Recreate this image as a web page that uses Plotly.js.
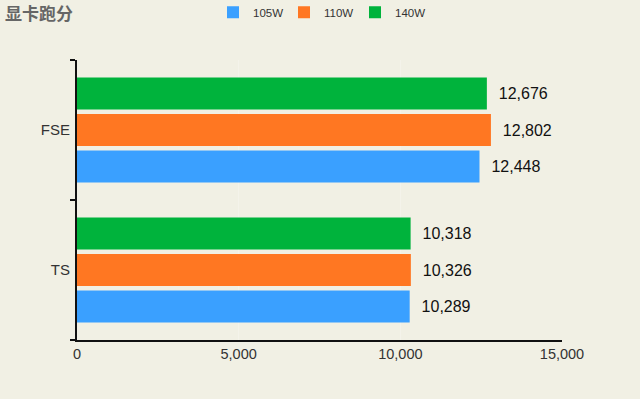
<!DOCTYPE html>
<html><head><meta charset="utf-8">
<script src="https://cdn.plot.ly/plotly-3.0.1.min.js"></script>
<style>html,body{margin:0;padding:0;background:#f1f0e4;}#chart{width:640px;height:399px;}</style>
</head><body><div id="chart"></div>
<script>
const categories = ['TS', 'FSE'];
const seriesNames = ['105W', '110W', '140W'];
const v105 = [10289, 12448];
const v110 = [10326, 12802];
const v140 = [10318, 12676];
const colors = ['#3aa0ff', '#ff7722', '#00b33c'];
const xTicks = [0, 5000, 10000, 15000];
const fmt = n => n.toLocaleString('en-US');
const vals = [v105, v110, v140];
const traces = vals.map((v, i) => ({
  type: 'bar', orientation: 'h', name: seriesNames[i], y: categories, x: v,
  marker: {color: colors[i]}, text: v.map(n => '\u00a0\u00a0' + fmt(n)), textposition: 'outside',
  textfont: {family: 'Liberation Sans, Arial, sans-serif', size: 16, color: '#111'},
  cliponaxis: false, hoverinfo: 'none'
}));
const layout = {
  width: 640, height: 399,
  paper_bgcolor: '#f1f0e4', plot_bgcolor: '#f1f0e4',
  margin: {l: 77, r: 78, t: 60, b: 59, autoexpand: false},
  barmode: 'group', bargap: 0.22, bargroupgap: 0.12,
  font: {family: 'Liberation Sans, Arial, sans-serif', color: '#333'},
  title: {text: '<b>显卡跑分</b>', x: 0.008, xanchor: 'left', yref: 'container', y: 0.965, yanchor: 'middle',
          font: {family: 'Noto Sans CJK SC, sans-serif', size: 17, color: '#666'}},
  showlegend: true,
  legend: {orientation: 'h', x: 0.5, xanchor: 'center', y: 1.222, yref: 'paper', yanchor: 'top',
           font: {size: 11.5, color: '#333'}, traceorder: 'normal', itemwidth: 30,
           entrywidth: 26, entrywidthmode: 'pixels'},
  xaxis: {range: [0, 15000], tickvals: xTicks, ticktext: xTicks.map(fmt), showgrid: true,
          gridcolor: '#f4f3ea', zeroline: false, showline: true, linecolor: '#111', linewidth: 2,
          ticks: '', tickfont: {size: 14.5, color: '#333'}, fixedrange: true},
  yaxis: {showline: true, linecolor: '#111', linewidth: 2, ticks: 'outside', tickson: 'boundaries',
          ticklen: 5, tickwidth: 1.5, tickcolor: '#111', showgrid: false, zeroline: false,
          tickfont: {size: 15, color: '#333'}, ticklabelstandoff: 2}
};
Plotly.newPlot('chart', traces, layout, {displayModeBar: false, staticPlot: true});
</script></body></html>
